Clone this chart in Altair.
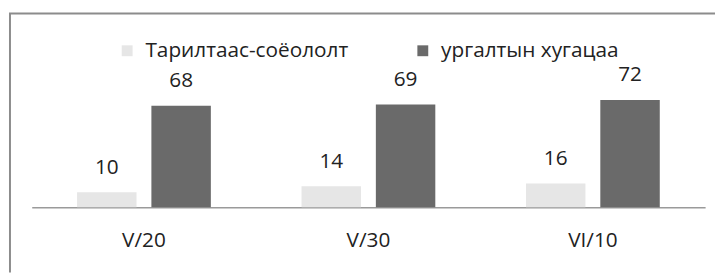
import altair as alt
import pandas as pd

categories = ["V/20", "V/30", "VI/10"]
series = ["Тарилтаас-соёололт", "ургалтын хугацаа"]
germination = [10, 14, 16]
growth_period = [68, 69, 72]

rows = []
for i, c in enumerate(categories):
    rows.append({"date": c, "series": series[0], "value": germination[i]})
    rows.append({"date": c, "series": series[1], "value": growth_period[i]})
df = pd.DataFrame(rows)

FONT = "Open Sans"
TXT = "#222222"

x_enc = alt.X(
    "date:N",
    sort=categories,
    scale=alt.Scale(paddingInner=0.404, paddingOuter=0.202),
    axis=alt.Axis(
        title=None, labelAngle=0, ticks=False, tickSize=0, grid=False,
        domainColor="#9a9a9a", domainWidth=1.5,
        labelFont=FONT, labelFontSize=21, labelColor=TXT,
        labelPadding=23, labelBaseline="top",
    ),
)
xo_enc = alt.XOffset("series:N", sort=series, scale=alt.Scale(paddingInner=0.2, paddingOuter=0))
y_enc = alt.Y("value:Q", scale=alt.Scale(domain=[0, 130], nice=False, zero=True), axis=None)

bars = alt.Chart(df).mark_bar().encode(
    x=x_enc,
    xOffset=xo_enc,
    y=y_enc,
    color=alt.Color(
        "series:N",
        sort=series,
        scale=alt.Scale(domain=series, range=["#e6e6e6", "#6a6a6a"]),
        legend=alt.Legend(
            title=None, orient="none", legendX=86, legendY=27,
            direction="horizontal", columns=2, columnPadding=64,
            symbolType="square", symbolSize=121, symbolStrokeWidth=0,
            labelFont=FONT, labelFontSize=21, labelColor=TXT,
            labelOffset=8, padding=0, labelLimit=400,
        ),
    ),
)

labels = alt.Chart(df).mark_text(
    baseline="alphabetic", dy=-19, font=FONT, fontSize=21, color=TXT
).encode(x=x_enc, xOffset=xo_enc, y=y_enc, text=alt.Text("value:Q"))

frame_data = alt.Data(values=[{"k": 1}])
left_border = alt.Chart(frame_data).mark_rule(color="#8c8c8c", strokeWidth=2).encode(
    x=alt.value(-22), y=alt.value(0), y2=alt.value(262)
)
top_border = alt.Chart(frame_data).mark_rule(color="#8c8c8c", strokeWidth=2).encode(
    x=alt.value(-23), x2=alt.value(692), y=alt.value(0)
)

chart = (
    alt.layer(bars, labels, left_border, top_border)
    .properties(
        width=681, height=196,
        autosize=alt.AutoSizeParams(type="none"),
        padding={"left": 24, "top": 4, "right": 10, "bottom": 65},
        background="white",
    )
    .configure_view(stroke=None)
)

chart.save("out.html", embed_options={"renderer": "svg", "actions": False})
